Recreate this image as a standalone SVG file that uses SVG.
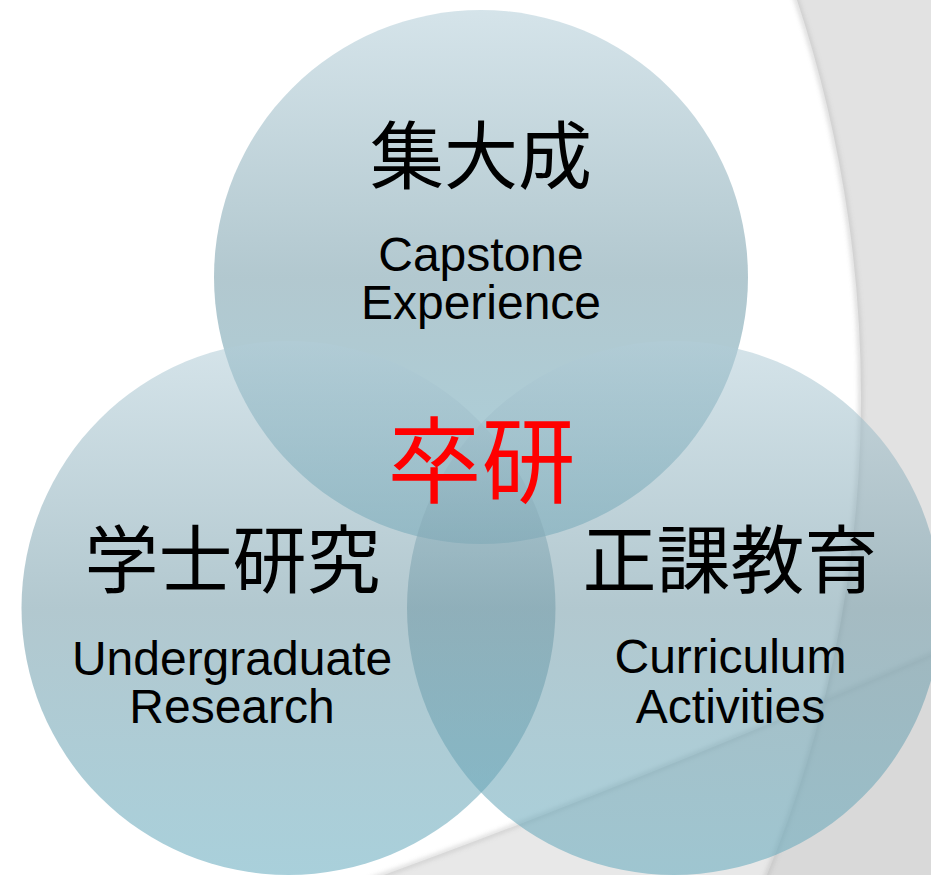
<svg xmlns="http://www.w3.org/2000/svg" width="931" height="875" viewBox="0 0 931 875">
  <defs>
    <linearGradient id="discFill" x1="0" y1="0" x2="0" y2="1">
      <stop offset="0" stop-color="#b2cdd8"/>
      <stop offset="0.5" stop-color="#739ba8"/>
      <stop offset="1" stop-color="#62a9bd"/>
    </linearGradient>
    <filter id="soft" x="-0.1" y="-0.1" width="1.2" height="1.2">
      <feGaussianBlur stdDeviation="2.5"/>
    </filter>
    <clipPath id="arcClip">
      <path d="M 797 0 A 1263 1263 0 0 1 767 875 L 931 875 L 931 0 Z"/>
    </clipPath>
  </defs>
  <style>
    .disc { fill: url(#discFill); fill-opacity: 0.55; }
    .jp { font-family: "Noto Sans CJK JP", "Noto Sans CJK SC", sans-serif; text-anchor: middle; fill: #000; font-size: 74px; }
    .en { font-family: "Liberation Sans", Arial, sans-serif; text-anchor: middle; fill: #000; font-size: 48px; }
    .hub { font-family: "Noto Sans CJK JP", "Noto Sans CJK SC", sans-serif; text-anchor: middle; fill: #ff0000; font-size: 94px; }
  </style>

  <!-- page background with the curved grey panels -->
  <g id="background">
    <rect width="931" height="875" fill="#ffffff"/>
    <path d="M 797 0 A 1263 1263 0 0 1 767 875 L 931 875 L 931 0 Z" fill="#e2e2e2"/>
    <path d="M 370 880 Q 620 790 935 653 L 935 880 Z" fill="#e8e8e8"/>
    <path d="M 370 880 Q 620 790 935 653 L 935 880 Z" fill="#d9d9d9" clip-path="url(#arcClip)"/>
    <path d="M 795 -5 A 1263 1263 0 0 1 765 880" fill="none" stroke="#b8b8b8" stroke-width="3" filter="url(#soft)" opacity="0.8"/>
    <path d="M 370 880 Q 620 790 935 653" fill="none" stroke="#bdbdbd" stroke-width="3" filter="url(#soft)" opacity="0.8"/>
  </g>

  <g id="node-capstone">
    <circle class="disc" cx="481" cy="277" r="267"/>
  </g>
  <g id="node-research">
    <circle class="disc" cx="288.5" cy="608" r="267"/>
  </g>
  <g id="node-curriculum">
    <circle class="disc" cx="674" cy="608" r="267"/>
  </g>

  <!-- labels -->
  <g id="label-capstone">
    <text class="jp" x="481" y="183" font-size="75">集大成</text>
    <text class="en" x="481" y="271">Capstone</text>
    <text class="en" x="481" y="319">Experience</text>
  </g>
  <g id="label-research">
    <text class="jp" x="232.5" y="587">学士研究</text>
    <text class="en" x="232" y="675">Undergraduate</text>
    <text class="en" x="232" y="723">Research</text>
  </g>
  <g id="label-curriculum">
    <text class="jp" x="730.5" y="587">正課教育</text>
    <text class="en" x="730.5" y="673">Curriculum</text>
    <text class="en" x="730.5" y="723">Activities</text>
  </g>
  <g id="node-center">
    <text class="hub" x="481.5" y="496">卒研</text>
  </g>
</svg>
